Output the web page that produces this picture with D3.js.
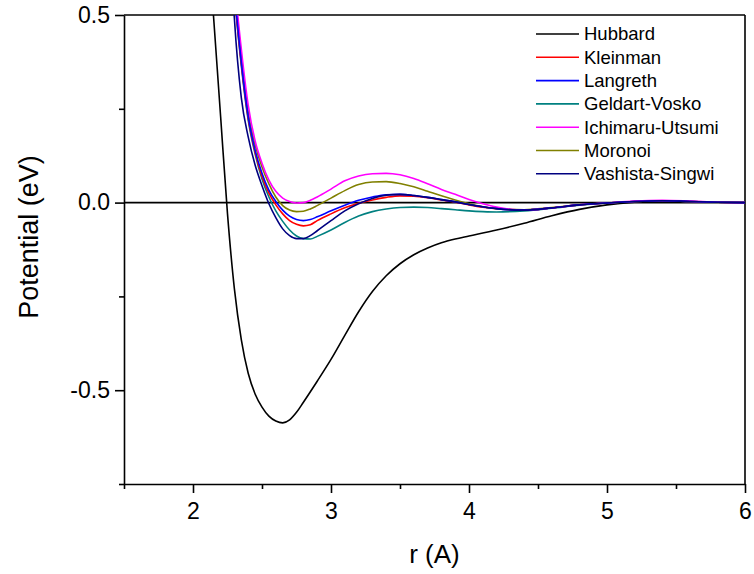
<!DOCTYPE html>
<html><head><meta charset="utf-8">
<script src="https://cdn.jsdelivr.net/npm/d3@7"></script>
<style>body{margin:0;background:#fff;}svg{display:block;}</style>
</head><body><svg id="chart" width="754" height="574"></svg>
<script>
// ---- data ----
const rHubbard = [2.1,2.15,2.2,2.25,2.3,2.35,2.4,2.45,2.5,2.55,2.6,2.65,2.7,2.75,2.8,2.9,3.0,3.1,3.2,3.3,3.4,3.5,3.6,3.7,3.8,3.9,4.0,4.2,4.4,4.6,4.8,5.0,5.2,5.4,5.6,5.8,6.0];
const hubbard = [0.75,0.49,0.23,-0.03,-0.23,-0.365,-0.455,-0.51,-0.545,-0.569,-0.582,-0.587,-0.579,-0.559,-0.532,-0.476,-0.418,-0.354,-0.291,-0.237,-0.195,-0.163,-0.139,-0.121,-0.107,-0.097,-0.089,-0.073,-0.055,-0.035,-0.018,-0.006,0.001,0.004,0.003,0.001,0.0];

const rGrid = [2.25,2.3,2.35,2.4,2.45,2.5,2.55,2.6,2.65,2.7,2.75,2.8,2.85,2.9,3.0,3.1,3.2,3.3,3.4,3.5,3.6,3.7,3.8,3.9,4.0,4.1,4.2,4.4,4.6,4.8,5.0,5.2,5.4,5.6,5.8,6.0];
const kleinman = [0.84,0.56,0.37,0.225,0.135,0.07,0.025,-0.006,-0.03,-0.048,-0.058,-0.062,-0.059,-0.048,-0.03,-0.014,-0.002,0.007,0.014,0.018,0.017,0.013,0.007,0.001,-0.006,-0.012,-0.016,-0.02,-0.014,-0.006,-0.001,0.003,0.005,0.003,0.001,0.0];
const langreth = [0.85,0.57,0.375,0.23,0.14,0.078,0.033,0.003,-0.02,-0.036,-0.045,-0.048,-0.045,-0.038,-0.022,-0.007,0.006,0.015,0.021,0.022,0.019,0.014,0.008,0.002,-0.005,-0.011,-0.016,-0.02,-0.014,-0.006,-0.001,0.003,0.005,0.003,0.001,0.0];
const geldartVosko = [0.85,0.56,0.365,0.22,0.13,0.063,0.015,-0.022,-0.05,-0.073,-0.089,-0.096,-0.097,-0.09,-0.073,-0.053,-0.036,-0.024,-0.017,-0.013,-0.012,-0.013,-0.016,-0.019,-0.022,-0.024,-0.025,-0.022,-0.015,-0.007,-0.001,0.003,0.005,0.003,0.001,0.0];
const ichimaruUtsumi = [0.9,0.6,0.41,0.26,0.165,0.105,0.06,0.03,0.012,0.003,-0.001,0.0,0.006,0.015,0.036,0.058,0.071,0.077,0.078,0.074,0.064,0.05,0.035,0.022,0.008,-0.003,-0.012,-0.02,-0.014,-0.006,-0.001,0.004,0.006,0.004,0.001,0.0];
const moronoi = [0.85,0.58,0.39,0.24,0.155,0.095,0.05,0.015,-0.008,-0.02,-0.024,-0.023,-0.017,-0.008,0.012,0.032,0.048,0.055,0.056,0.051,0.042,0.03,0.018,0.007,-0.003,-0.011,-0.016,-0.019,-0.013,-0.006,-0.001,0.003,0.005,0.003,0.001,0.0];
const vashistaSingwi = [0.86,0.49,0.28,0.175,0.1,0.045,-0.003,-0.04,-0.07,-0.088,-0.096,-0.096,-0.088,-0.075,-0.048,-0.022,-0.003,0.011,0.02,0.022,0.019,0.014,0.008,0.002,-0.005,-0.011,-0.016,-0.02,-0.014,-0.006,-0.001,0.003,0.005,0.003,0.001,0.0];

const seriesNames = ["Hubbard","Kleinman","Langreth","Geldart-Vosko","Ichimaru-Utsumi","Moronoi","Vashista-Singwi"];
const seriesColors = ["#000000","#ff0000","#0000ff","#008080","#ff00ff","#808000","#000080"];
const xMajorTicks = [2,3,4,5,6];
const xMinorTicks = [1.5,2.5,3.5,4.5,5.5];
const yMajorTicks = [-0.5,0,0.5];
const yTickLabels = ["-0.5","0.0","0.5"];
const yMinorTicks = [-0.75,-0.25,0.25];
const xTitle = "r (A)";
const yTitle = "Potential (eV)";

// ---- layout ----
const W = 754, H = 574;
const m = {left:124, right:9, top:15, bottom:90};
const pw = W - m.left - m.right, ph = H - m.top - m.bottom;
const svg = d3.select("#chart");
const g = svg.append("g").attr("transform", `translate(${m.left},${m.top})`);
const x = d3.scaleLinear().domain([1.5,6]).range([0,pw]);
const y = d3.scaleLinear().domain([-0.75,0.5]).range([ph,0]);
const font = "'Liberation Sans', Arial, sans-serif";

svg.append("defs").append("clipPath").attr("id","clip")
  .append("rect").attr("x",0).attr("y",0).attr("width",pw).attr("height",ph);

// frame top/right
g.append("line").attr("x1",0).attr("x2",pw).attr("y1",0).attr("y2",0).attr("stroke","#000").attr("stroke-width",1.6);
g.append("line").attr("x1",pw).attr("x2",pw).attr("y1",0).attr("y2",ph).attr("stroke","#000").attr("stroke-width",1.6);
// zero line
g.append("line").attr("x1",0).attr("x2",pw).attr("y1",y(0)).attr("y2",y(0)).attr("stroke","#000").attr("stroke-width",1.6);

// curves
const allSeries = [
  {r:rHubbard, v:hubbard},
  {r:rGrid, v:kleinman},
  {r:rGrid, v:langreth},
  {r:rGrid, v:geldartVosko},
  {r:rGrid, v:ichimaruUtsumi},
  {r:rGrid, v:moronoi},
  {r:rGrid, v:vashistaSingwi}
];
const line = d3.line().x(d=>x(d[0])).y(d=>y(d[1])).curve(d3.curveMonotoneX);
const curves = g.append("g").attr("clip-path","url(#clip)");
const drawOrder = [0,3,1,5,4,2,6];
drawOrder.forEach(i=>{
  const s = allSeries[i];
  curves.append("path").datum(s.r.map((r,k)=>[r,s.v[k]]))
    .attr("d",line).attr("fill","none").attr("stroke",seriesColors[i]).attr("stroke-width",1.6);
});

// axes
function styleAxis(sel){
  sel.selectAll("path,line").attr("stroke","#000").attr("stroke-width",1.6);
  sel.selectAll("text").attr("fill","#000").style("font-family",font).style("font-size","23px");
}
const xMaj = g.append("g").attr("transform",`translate(0,${ph})`)
  .call(d3.axisBottom(x).tickValues(xMajorTicks).tickSize(9).tickSizeOuter(0).tickPadding(10).tickFormat(d=>String(d)));
styleAxis(xMaj);
const xMin = g.append("g").attr("transform",`translate(0,${ph})`)
  .call(d3.axisBottom(x).tickValues(xMinorTicks).tickSize(5).tickSizeOuter(0).tickFormat(""));
styleAxis(xMin); xMin.select("path").remove();
const yMaj = g.append("g")
  .call(d3.axisLeft(y).tickValues(yMajorTicks).tickSize(9).tickSizeOuter(0).tickPadding(5)
    .tickFormat(d=>yTickLabels[yMajorTicks.indexOf(d)]));
styleAxis(yMaj);
const yMin = g.append("g")
  .call(d3.axisLeft(y).tickValues(yMinorTicks).tickSize(5).tickSizeOuter(0).tickFormat(""));
styleAxis(yMin); yMin.select("path").remove();

// titles
svg.append("text").attr("x", m.left + pw/2).attr("y", 563).attr("text-anchor","middle")
  .style("font-family",font).style("font-size","26px").text(xTitle);
svg.append("text").attr("transform","translate(38,237) rotate(-90)").attr("text-anchor","middle")
  .style("font-family",font).style("font-size","27px").text(yTitle);

// legend
const leg = svg.append("g");
seriesNames.forEach((name,i)=>{
  const ly = 34 + i*23.3;
  leg.append("line").attr("x1",536).attr("x2",579).attr("y1",ly).attr("y2",ly)
    .attr("stroke",seriesColors[i]).attr("stroke-width",1.6);
  leg.append("text").attr("x",584).attr("y",ly).attr("dy","0.35em")
    .style("font-family",font).style("font-size","18.5px").text(name);
});
</script></body></html>
